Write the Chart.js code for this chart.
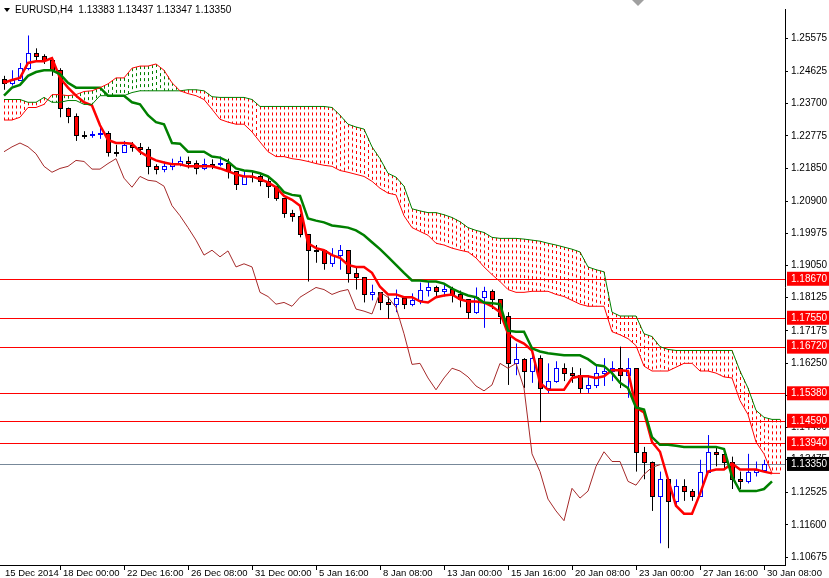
<!DOCTYPE html>
<html><head><meta charset="utf-8">
<script src="https://cdn.jsdelivr.net/npm/chart.js@4"></script>
<style>html,body{margin:0;padding:0;background:#fff}#w{width:829px;height:578px;position:relative}</style>
</head><body><div id="w"><canvas id="c"></canvas></div>
<script>
const title = "EURUSD,H4  1.13383 1.13437 1.13347 1.13350";
const xTickLabels = ["15 Dec 2014","18 Dec 00:00","22 Dec 16:00","26 Dec 08:00","31 Dec 00:00","5 Jan 16:00","8 Jan 08:00","13 Jan 00:00","15 Jan 16:00","20 Jan 08:00","23 Jan 00:00","27 Jan 16:00","30 Jan 08:00"];
const xTickBars = [-0.25,7,15,23,31,39,47,55,63,71,79,87,95];
const yTickValues = [1.25575,1.24625,1.23700,1.22775,1.21850,1.20900,1.19975,1.19050,1.18125,1.17175,1.16250,1.15325,1.14400,1.13475,1.12525,1.11600,1.10675];
const levels = [1.18670,1.17550,1.16720,1.15380,1.14590,1.13940];
const lastPrice = 1.13350;
const firstOpen = 1.2440;
const closes = [1.2430,1.2438,1.2472,1.2515,1.2506,1.2495,1.2466,1.2359,1.2336,1.2280,1.2280,1.2283,1.2286,1.2232,1.2232,1.2252,1.2246,1.2240,1.2190,1.2182,1.2190,1.2196,1.2204,1.2201,1.2184,1.2196,1.2196,1.2201,1.2176,1.2139,1.2161,1.2161,1.2147,1.2133,1.2099,1.2057,1.2048,1.1997,1.1949,1.1949,1.1913,1.1935,1.1949,1.1884,1.1873,1.1822,1.1828,1.1799,1.1794,1.1811,1.1794,1.1805,1.1836,1.1844,1.1833,1.1839,1.1822,1.1808,1.1771,1.1816,1.1833,1.1808,1.1760,1.1624,1.1636,1.1602,1.1639,1.1553,1.1573,1.1610,1.1596,1.1590,1.1553,1.1562,1.1596,1.1602,1.1610,1.1590,1.1610,1.1370,1.1342,1.1243,1.1291,1.1229,1.1271,1.1257,1.1243,1.1313,1.1370,1.1364,1.1342,1.1291,1.1285,1.1313,1.1319,1.1335];
const highs = [1.2450,1.2466,1.2487,1.2566,1.2529,1.2512,1.2487,1.2472,1.2359,1.2342,1.2291,1.2291,1.2303,1.2291,1.2252,1.2263,1.2260,1.2257,1.2246,1.2196,1.2204,1.2212,1.2218,1.2218,1.2207,1.2212,1.2210,1.2218,1.2212,1.2176,1.2178,1.2176,1.2167,1.2161,1.2133,1.2083,1.2065,1.2054,1.1972,1.1964,1.1949,1.1955,1.1964,1.1921,1.1901,1.1856,1.1850,1.1828,1.1816,1.1836,1.1814,1.1825,1.1856,1.1859,1.1847,1.1850,1.1844,1.1833,1.1805,1.1842,1.1844,1.1836,1.1808,1.1771,1.1681,1.1639,1.1653,1.1647,1.1624,1.1630,1.1624,1.1613,1.1610,1.1590,1.1619,1.1639,1.1630,1.1672,1.1639,1.1610,1.1384,1.1342,1.1313,1.1263,1.1291,1.1291,1.1263,1.1347,1.1418,1.1384,1.1376,1.1356,1.1313,1.1364,1.1342,1.1347];
const lows = [1.2410,1.2422,1.2438,1.2466,1.2495,1.2484,1.2450,1.2331,1.2314,1.2263,1.2269,1.2272,1.2269,1.2218,1.2218,1.2229,1.2232,1.2223,1.2167,1.2167,1.2173,1.2179,1.2190,1.2184,1.2167,1.2179,1.2182,1.2190,1.2155,1.2122,1.2139,1.2144,1.2133,1.2099,1.2091,1.2042,1.2031,1.1986,1.1859,1.1913,1.1893,1.1901,1.1893,1.1856,1.1836,1.1799,1.1805,1.1777,1.1752,1.1771,1.1780,1.1788,1.1794,1.1816,1.1814,1.1816,1.1799,1.1785,1.1752,1.1766,1.1726,1.1780,1.1737,1.1562,1.1590,1.1553,1.1568,1.1455,1.1539,1.1568,1.1573,1.1568,1.1539,1.1539,1.1553,1.1559,1.1573,1.1553,1.1525,1.1313,1.1291,1.1200,1.1107,1.1093,1.1215,1.1229,1.1229,1.1263,1.1313,1.1328,1.1319,1.1263,1.1263,1.1279,1.1299,1.1319];
const tenkan = [1.2430,1.2438,1.2444,1.2487,1.2492,1.2492,1.2501,1.2444,1.2416,1.2393,1.2374,1.2365,1.2308,1.2266,1.2257,1.2257,1.2255,1.2232,1.2218,1.2207,1.2201,1.2196,1.2196,1.2190,1.2190,1.2190,1.2190,1.2184,1.2176,1.2167,1.2161,1.2161,1.2153,1.2144,1.2130,1.2105,1.2094,1.2077,1.1969,1.1955,1.1949,1.1935,1.1927,1.1907,1.1901,1.1901,1.1884,1.1844,1.1822,1.1822,1.1814,1.1814,1.1802,1.1799,1.1814,1.1819,1.1822,1.1808,1.1802,1.1802,1.1799,1.1788,1.1771,1.1709,1.1692,1.1681,1.1661,1.1568,1.1548,1.1548,1.1548,1.1582,1.1587,1.1587,1.1582,1.1587,1.1604,1.1604,1.1602,1.1497,1.1483,1.1398,1.1370,1.1291,1.1215,1.1192,1.1192,1.1249,1.1313,1.1319,1.1319,1.1336,1.1319,1.1319,1.1319,1.1313,1.1308];
const kijun = [1.2393,1.2416,1.2424,1.2450,1.2461,1.2466,1.2466,1.2455,1.2430,1.2416,1.2416,1.2416,1.2416,1.2393,1.2393,1.2393,1.2374,1.2368,1.2337,1.2317,1.2311,1.2257,1.2255,1.2232,1.2232,1.2232,1.2218,1.2215,1.2204,1.2184,1.2178,1.2176,1.2170,1.2161,1.2142,1.2116,1.2108,1.2105,1.2040,1.2034,1.2029,1.2020,1.2017,1.2014,1.2006,1.1992,1.1972,1.1952,1.1930,1.1907,1.1884,1.1862,1.1862,1.1859,1.1859,1.1853,1.1839,1.1828,1.1819,1.1814,1.1799,1.1797,1.1794,1.1718,1.1715,1.1715,1.1667,1.1658,1.1653,1.1650,1.1647,1.1647,1.1647,1.1636,1.1619,1.1616,1.1596,1.1568,1.1553,1.1497,1.1491,1.1412,1.1390,1.1390,1.1387,1.1384,1.1384,1.1384,1.1384,1.1384,1.1378,1.1299,1.1257,1.1257,1.1257,1.1263,1.1285];
const chikou = [1.2232,1.2246,1.2257,1.2246,1.2226,1.2190,1.2173,1.2184,1.2190,1.2207,1.2204,1.2182,1.2182,1.2198,1.2212,1.2156,1.2130,1.2161,1.2150,1.2147,1.2133,1.2077,1.2048,1.2014,1.1978,1.1935,1.1949,1.1930,1.1947,1.1901,1.1910,1.1901,1.1828,1.1816,1.1794,1.1799,1.1788,1.1814,1.1828,1.1842,1.1836,1.1822,1.1831,1.1836,1.1780,1.1774,1.1766,1.1828,1.1814,1.1785,1.1709,1.1621,1.1624,1.1582,1.1548,1.1582,1.1610,1.1602,1.1585,1.1559,1.1545,1.1562,1.1624,1.1610,1.1624,1.1553,1.1364,1.1313,1.1234,1.1200,1.1172,1.1265,1.1237,1.1257,1.1328,1.1370,1.1342,1.1342,1.1285,1.1274,1.1305,1.1325,1.1333];
const spanA = [1.2323,1.2323,1.2331,1.2359,1.2359,1.2368,1.2396,1.2396,1.2393,1.2396,1.2405,1.2407,1.2416,1.2427,1.2444,1.2444,1.2472,1.2478,1.2478,1.2484,1.2466,1.2430,1.2407,1.2399,1.2393,1.2382,1.2354,1.2325,1.2317,1.2311,1.2311,1.2289,1.2260,1.2232,1.2218,1.2218,1.2212,1.2209,1.2204,1.2198,1.2193,1.2190,1.2178,1.2173,1.2167,1.2161,1.2147,1.2127,1.2113,1.2108,1.2048,1.2014,1.2003,1.1992,1.1969,1.1964,1.1955,1.1949,1.1944,1.1927,1.1901,1.1879,1.1859,1.1836,1.1828,1.1828,1.1831,1.1831,1.1831,1.1822,1.1816,1.1805,1.1794,1.1788,1.1788,1.1788,1.1715,1.1706,1.1695,1.1675,1.1616,1.1602,1.1602,1.1602,1.1613,1.1624,1.1624,1.1602,1.1602,1.1596,1.1585,1.1582,1.1517,1.1477,1.1398,1.1364,1.1308,1.1308];
const spanB = [1.2382,1.2382,1.2382,1.2374,1.2374,1.2388,1.2374,1.2374,1.2379,1.2379,1.2368,1.2368,1.2393,1.2393,1.2393,1.2393,1.2402,1.2407,1.2407,1.2407,1.2407,1.2407,1.2407,1.2410,1.2410,1.2407,1.2390,1.2388,1.2388,1.2388,1.2388,1.2382,1.2362,1.2362,1.2362,1.2362,1.2362,1.2362,1.2362,1.2362,1.2362,1.2359,1.2337,1.2311,1.2303,1.2297,1.2246,1.2212,1.2170,1.2159,1.2133,1.2068,1.2062,1.2057,1.2057,1.2051,1.2043,1.2031,1.2014,1.2006,1.2000,1.1986,1.1983,1.1983,1.1983,1.1981,1.1978,1.1975,1.1969,1.1964,1.1958,1.1952,1.1944,1.1901,1.1893,1.1887,1.1771,1.1760,1.1760,1.1760,1.1709,1.1701,1.1672,1.1664,1.1661,1.1661,1.1661,1.1661,1.1661,1.1661,1.1661,1.1661,1.1602,1.1553,1.1489,1.1469,1.1463,1.1463];

const pts = a => a.map((v,i)=>({x:i,y:v}));
const FONT = "Liberation Sans";

const frame = {
  id:'frame',
  beforeDatasetsDraw(ch){
    const {ctx, chartArea:ca, scales:{x,y}} = ch;
    ctx.save();
    ctx.beginPath(); ctx.rect(ca.left,ca.top,ca.right-ca.left,ca.bottom-ca.top); ctx.clip();
    ctx.lineWidth = 1; ctx.setLineDash([3,3]);
    const n = spanA.length;
    for(let px = Math.ceil(x.getPixelForValue(0)); px <= x.getPixelForValue(n-1); px += 4){
      const f = x.getValueForPixel(px); const i0 = Math.floor(f), i1 = Math.min(i0+1,n-1), t = f-i0;
      const a = spanA[i0]+(spanA[i1]-spanA[i0])*t, b = spanB[i0]+(spanB[i1]-spanB[i0])*t;
      ctx.strokeStyle = a>b ? '#008000' : '#ff0000';
      ctx.beginPath(); ctx.moveTo(px+0.5, y.getPixelForValue(Math.max(a,b))); ctx.lineTo(px+0.5, y.getPixelForValue(Math.min(a,b))); ctx.stroke();
    }
    ctx.setLineDash([]);
    ctx.lineWidth = 1;
    levels.forEach(v=>{const py=Math.round(y.getPixelForValue(v)); ctx.fillStyle='#ff0000'; ctx.fillRect(ca.left,py,ca.right-ca.left,1);});
    {const py=Math.round(y.getPixelForValue(lastPrice)); ctx.fillStyle='#778899'; ctx.fillRect(ca.left,py,ca.right-ca.left,1);}
    closes.forEach((c,i)=>{
      const o = i===0 ? firstOpen : closes[i-1];
      const cx = Math.round(x.getPixelForValue(i))+0.5;
      const bull = c>o;
      ctx.strokeStyle = bull ? '#0000ff' : '#000000'; ctx.lineWidth = 1;
      ctx.beginPath(); ctx.moveTo(cx, y.getPixelForValue(highs[i])); ctx.lineTo(cx, y.getPixelForValue(lows[i])); ctx.stroke();
      const t = Math.round(y.getPixelForValue(Math.max(o,c)))+0.5, b = Math.round(y.getPixelForValue(Math.min(o,c)))+0.5;
      ctx.fillStyle = bull ? '#ffffff' : '#ff0000';
      const h = Math.max(1,b-t);
      ctx.fillRect(cx-2,t,4,h); ctx.strokeRect(cx-2,t,4,h);
    });
    ctx.restore();
  },
  afterDraw(ch){
    const {ctx, chartArea:ca, scales:{y}} = ch;
    ctx.save();
    ctx.font = `10px ${FONT}`; ctx.textBaseline='middle'; ctx.textAlign='left';
    const box = (v,bg)=>{const py=y.getPixelForValue(v); ctx.fillStyle=bg; ctx.fillRect(ca.right+2,py-7,42,14); ctx.fillStyle='#fff'; ctx.fillText(v.toFixed(5),ca.right+6,py);};
    levels.forEach(v=>box(v,'#ff0000'));
    box(lastPrice,'#000000');
    ctx.fillStyle='#000'; ctx.textBaseline='alphabetic'; ctx.strokeStyle='#000';
    ctx.font = `9.5px ${FONT}`;
    xTickLabels.forEach((l,k)=>{const px=ch.scales.x.getPixelForValue(xTickBars[k]);
      ctx.fillText(l,px+3,ca.bottom+11);
      if(k>0){ctx.beginPath();ctx.moveTo(Math.round(px)+0.5,ca.bottom);ctx.lineTo(Math.round(px)+0.5,ca.bottom+5);ctx.stroke();}});
    ctx.font=`10px ${FONT}`; ctx.textBaseline='middle';
    ctx.beginPath(); ctx.moveTo(4,8); ctx.lineTo(10,8); ctx.lineTo(7,12); ctx.closePath(); ctx.fill();
    ctx.fillText(title,15,10);
    ctx.fillStyle='#a0a0a0'; ctx.beginPath(); ctx.moveTo(632,0); ctx.lineTo(644,0); ctx.lineTo(638,6); ctx.closePath(); ctx.fill();
    ctx.restore();
  }
};

new Chart(document.getElementById('c'), {
  type:'line',
  data:{datasets:[
    {data:pts(spanA), borderColor:'#ff0000', borderWidth:1},
    {data:pts(spanB), borderColor:'#008000', borderWidth:1},
    {data:pts(chikou), borderColor:'#a52a2a', borderWidth:1},
    {data:pts(kijun), borderColor:'#008000', borderWidth:2.5},
    {data:pts(tenkan), borderColor:'#ff0000', borderWidth:2.5},
  ]},
  options:{
    responsive:true, maintainAspectRatio:false, animation:false,
    layout:{padding:0},
    elements:{point:{radius:0}, line:{tension:0, fill:false}},
    plugins:{legend:{display:false}, tooltip:{enabled:false}},
    scales:{
      x:{type:'linear', min:-0.5, max:97.625, ticks:{display:false}, grid:{display:false}, border:{color:'#000'},
         afterFit(s){s.height=13;}},
      y:{type:'linear', position:'right', min:1.10447, max:1.2642,
         afterBuildTicks(s){s.ticks = yTickValues.map(v=>({value:v}));},
         afterFit(s){s.width=44;},
         ticks:{autoSkip:false, color:'#000', font:{family:FONT,size:10}, padding:3, callback:v=>v.toFixed(5)},
         grid:{drawOnChartArea:false, tickLength:3, color:'#000'}, border:{color:'#000'}}
    }
  },
  plugins:[frame]
});
</script></body></html>
